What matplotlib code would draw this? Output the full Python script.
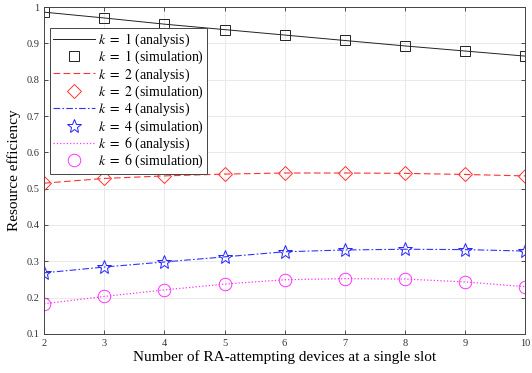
import numpy as np
import matplotlib.pyplot as plt
from matplotlib.lines import Line2D

plt.rcParams['font.family'] = ['Liberation Serif', 'DejaVu Serif']
plt.rcParams['mathtext.fontset'] = 'stix'

# devices per slot
n = [2, 3, 4, 5, 6, 7, 8, 9, 10]

# resource efficiency
eff_k1 = [0.986, 0.970, 0.953, 0.938, 0.923, 0.908, 0.893, 0.879, 0.865]
eff_k2 = [0.515, 0.528, 0.535, 0.540, 0.543, 0.543, 0.542, 0.539, 0.535]
eff_k4 = [0.268, 0.284, 0.298, 0.312, 0.326, 0.331, 0.333, 0.332, 0.328]
eff_k6 = [0.183, 0.203, 0.221, 0.237, 0.249, 0.252, 0.251, 0.243, 0.230]

fig = plt.figure(figsize=(5.32, 3.73), dpi=100)
ax = fig.add_axes([0.083, 0.105, 0.904, 0.876])

# analysis curves
ax.plot(n, eff_k1, "-", color="#222222", linewidth=0.7)
ax.plot(n, eff_k2, "--", color="#ff3333", linewidth=0.8, dashes=(6, 3))
ax.plot(n, eff_k4, "-.", color="#3333ff", linewidth=0.8, dashes=(6, 2, 1.5, 2))
ax.plot(n, eff_k6, ":", color="#ff33ff", linewidth=0.9)

# simulation markers
ax.plot(n, eff_k1, "s", mfc="none", mec="#222222", ms=7, mew=0.7)
ax.plot(n, eff_k2, "D", mfc="none", mec="#ff3333", ms=7.5, mew=0.7)
ax.plot(n, eff_k4, "*", mfc="none", mec="#2222ff", ms=10, mew=0.7)
ax.plot(n, eff_k6, "o", mfc="none", mec="#ff33ff", ms=9, mew=0.7)

ax.set_xlim(2, 10)
ax.set_ylim(0.1, 1)
ax.set_xticks(n)
ax.set_yticks(np.arange(0.1, 1.01, 0.1))
ax.set_yticklabels(["0.1", "0.2", "0.3", "0.4", "0.5", "0.6", "0.7", "0.8", "0.9", "1"])
ax.tick_params(labelsize=7.5, direction="in", length=3, width=0.6, top=True, right=True,
               colors="#333333")
ax.grid(True, color="#e6e6e6", linewidth=0.6)
for s in ax.spines.values():
    s.set_color("#444444")
    s.set_linewidth(0.7)

ax.set_xlabel("Number of RA-attempting devices at a single slot", fontsize=11, labelpad=2)
ax.set_ylabel("Resource efficiency", fontsize=11, labelpad=4)

handles = [
    Line2D([], [], color="#222222", linestyle="-", linewidth=0.7),
    Line2D([], [], marker="s", color="#222222", linestyle="none", mfc="none", ms=7, mew=0.7),
    Line2D([], [], color="#ff3333", linestyle="--", linewidth=0.8, dashes=(6, 3)),
    Line2D([], [], marker="D", color="#ff3333", linestyle="none", mfc="none", ms=7.5, mew=0.7),
    Line2D([], [], color="#3333ff", linestyle="-.", linewidth=0.8, dashes=(6, 2, 1.5, 2)),
    Line2D([], [], marker="*", color="#2222ff", linestyle="none", mfc="none", ms=10, mew=0.7),
    Line2D([], [], color="#ff33ff", linestyle=":", linewidth=0.9),
    Line2D([], [], marker="o", color="#ff33ff", linestyle="none", mfc="none", ms=9, mew=0.7),
]
labels = [
    "$k\\ =\\ 1$ (analysis)", "$k\\ =\\ 1$ (simulation)",
    "$k\\ =\\ 2$ (analysis)", "$k\\ =\\ 2$ (simulation)",
    "$k\\ =\\ 4$ (analysis)", "$k\\ =\\ 4$ (simulation)",
    "$k\\ =\\ 6$ (analysis)", "$k\\ =\\ 6$ (simulation)",
]
leg = ax.legend(handles, labels, loc="upper left", bbox_to_anchor=(0.012, 0.936),
                fontsize=10, handlelength=3.0, handletextpad=0.2, labelspacing=0.0,
                borderpad=0.25, borderaxespad=0, fancybox=False, framealpha=1,
                edgecolor="#444444")
leg.get_frame().set_linewidth(0.7)

fig.savefig("out.png", dpi=100)
